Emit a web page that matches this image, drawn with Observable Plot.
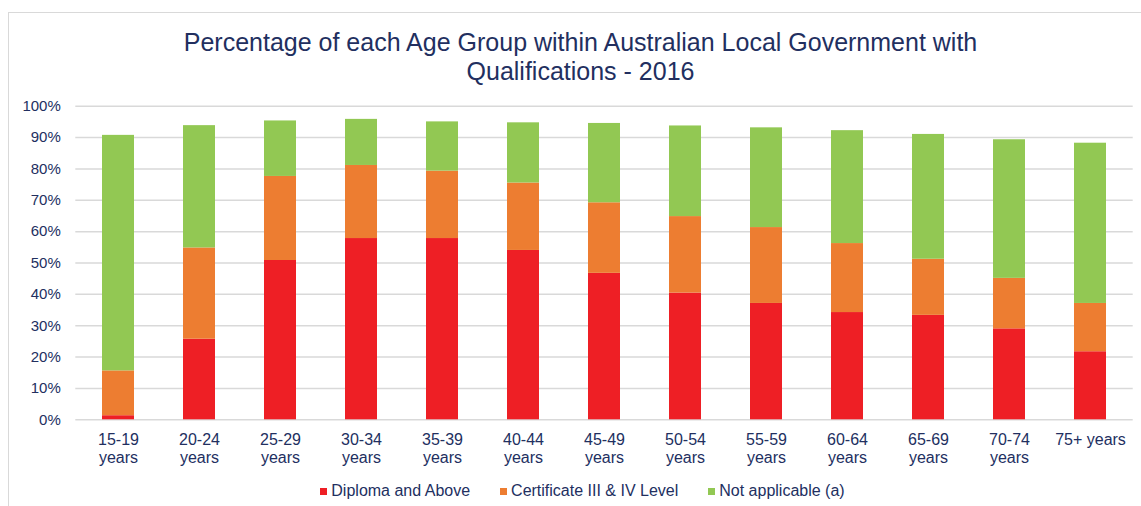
<!DOCTYPE html>
<html><head><meta charset="utf-8">
<script src="https://cdn.jsdelivr.net/npm/d3@7"></script>
<script src="https://cdn.jsdelivr.net/npm/@observablehq/plot@0.6"></script>
<style>
body{margin:0;background:#fff;width:1141px;height:506px;overflow:hidden;position:relative;font-family:"Liberation Sans",Arial,sans-serif;color:#222f5f}
#frame{position:absolute;left:8px;top:12px;width:1150px;height:510px;border-left:1.5px solid #d9d9d9;border-top:1.5px solid #d9d9d9;box-sizing:border-box}
#title{position:absolute;left:10px;width:1141px;top:28px;text-align:center;font-size:25px;line-height:29px;color:#222f5f}
#chart{position:absolute;left:0;top:90px}
#legend{position:absolute;left:12px;width:1141px;top:482px;height:18px;display:flex;justify-content:center;align-items:center;gap:30px;font-size:16px;color:#222f5f}
#legend span.item{display:flex;align-items:center}
#legend span.sw{display:inline-block;width:7px;height:7px;margin-right:4px}
</style>
</head><body>
<div id="frame"></div>
<div id="title">Percentage of each Age Group within Australian Local Government with<br>Qualifications - 2016</div>
<div id="chart"></div>
<div id="legend"></div>
<script>
const ages = ["15-19 years","20-24 years","25-29 years","30-34 years","35-39 years","40-44 years","45-49 years","50-54 years","55-59 years","60-64 years","65-69 years","70-74 years","75+ years"];
const diploma = [1.3,25.7,50.8,57.8,57.8,54.0,46.7,40.4,37.1,34.2,33.3,29.0,21.7];
const certificate = [14.3,29.1,26.8,23.3,21.5,21.5,22.5,24.4,24.2,22.0,17.9,16.1,15.4];
const notApplicable = [75.1,39.0,17.7,14.7,15.7,19.2,25.3,28.9,31.8,36.0,39.8,44.2,51.1];
const seriesNames = ["Diploma and Above","Certificate III & IV Level","Not applicable (a)"];
const seriesColors = ["#ee1f25","#ed7d31","#92c853"];
const yTicks = [0,10,20,30,40,50,60,70,80,90,100];

const seriesValues = [diploma, certificate, notApplicable];
const data = ages.flatMap((age, i) => seriesNames.map((s, j) => ({age, series: s, value: seriesValues[j][i]})));

const chart = Plot.plot({
  width: 1141,
  height: 380,
  marginLeft: 75.3,
  marginRight: 8.3,
  marginTop: 15.7,
  marginBottom: 50.7,
  style: {fontFamily: '"Liberation Sans", Arial, sans-serif', fontSize: "15px", color: "#222f5f", background: "transparent"},
  x: {domain: ages, paddingInner: 0.607, paddingOuter: 0.3035, label: null},
  y: {domain: [0, 100], label: null},
  color: {domain: seriesNames, range: seriesColors},
  marks: [
    Plot.ruleY(yTicks, {stroke: "#d9d9d9", strokeWidth: 1.5}),
    Plot.barY(data, Plot.stackY({x: "age", y: "value", fill: "series", order: seriesNames})),
    Plot.axisY({ticks: yTicks, tickSize: 0, tickPadding: 15, tickFormat: d => d + "%", label: null}),
    Plot.axisX({tickSize: 0, tickPadding: 13, lineHeight: 1.1, fontSize: 16, label: null,
      tickFormat: d => d.startsWith("75+") ? d : d.replace(" ", "\n")})
  ]
});
document.getElementById("chart").appendChild(chart);

const legend = document.getElementById("legend");
seriesNames.forEach((s, i) => {
  const item = document.createElement("span");
  item.className = "item";
  const sw = document.createElement("span");
  sw.className = "sw";
  sw.style.background = seriesColors[i];
  item.appendChild(sw);
  item.appendChild(document.createTextNode(s));
  legend.appendChild(item);
});
</script>
</body></html>
